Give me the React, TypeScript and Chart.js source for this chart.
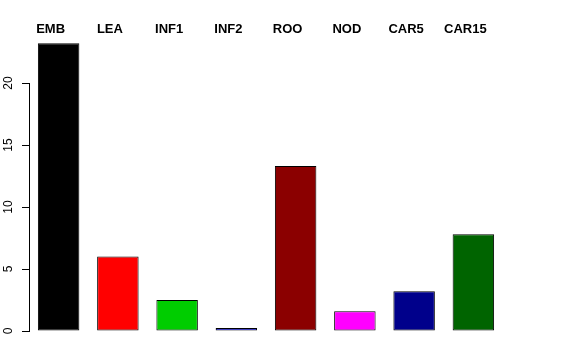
import React, { useEffect, useRef } from "react";
import { Chart, registerables } from "chart.js";

Chart.register(...registerables);

const categories = ["EMB", "LEA", "INF1", "INF2", "ROO", "NOD", "CAR5", "CAR15"];
const values = [23.2, 6.0, 2.5, 0.25, 13.3, 1.6, 3.2, 7.8];
const barColors = ["#000000", "#FF0000", "#00CD00", "#0000FF", "#8B0000", "#FF00FF", "#00008B", "#006400"];
const yTicks = [0, 5, 10, 15, 20];

const FONT = "'Liberation Sans', Arial, Helvetica, sans-serif";

export default function App() {
  const ref = useRef<HTMLCanvasElement>(null);
  useEffect(() => {
    document.body.style.margin = "0";
    const chart = new Chart(ref.current!, {
      type: "bar",
      data: {
        labels: categories,
        datasets: [
          {
            data: values,
            backgroundColor: barColors,
            borderColor: "#000000",
            borderWidth: 1,
            borderSkipped: false,
            categoryPercentage: 1,
            barPercentage: 0.7,
            clip: false,
          } as any,
        ],
      },
      options: {
        animation: false,
        responsive: false,
        devicePixelRatio: 1,
        layout: { padding: { left: 0, right: 73, top: 0, bottom: 29 } },
        plugins: { legend: { display: false }, tooltip: { enabled: false } },
        scales: {
          x: {
            position: "top",
            grid: { display: false, drawTicks: false },
            border: { display: false },
            ticks: {
              font: { family: FONT, size: 13, weight: "bold" },
              color: "#000000",
              padding: 46,
              labelOffset: -8,
              maxRotation: 0,
              minRotation: 0,
              autoSkip: false,
            },
            afterFit: (s: any) => {
              s.height = 83;
              s.paddingLeft = 0;
              s.paddingRight = 0;
            },
          },
          y: {
            min: 0,
            max: 20,
            afterBuildTicks: (s: any) => {
              s.ticks = yTicks.map((v) => ({ value: v }));
            },
            grid: { drawOnChartArea: false, tickLength: 7, color: "#000000", lineWidth: 1 },
            border: { display: true, color: "#000000", width: 1 },
            ticks: {
              minRotation: 90,
              maxRotation: 90,
              crossAlign: "center",
              font: { family: FONT, size: 12 },
              color: "#000000",
              padding: 7,
            },
            afterFit: (s: any) => {
              s.width = 29;
              s.paddingTop = 0;
              s.paddingBottom = 0;
            },
          },
        },
      },
    });
    return () => chart.destroy();
  }, []);
  return <canvas ref={ref} width={576} height={360} style={{ display: "block" }} />;
}
